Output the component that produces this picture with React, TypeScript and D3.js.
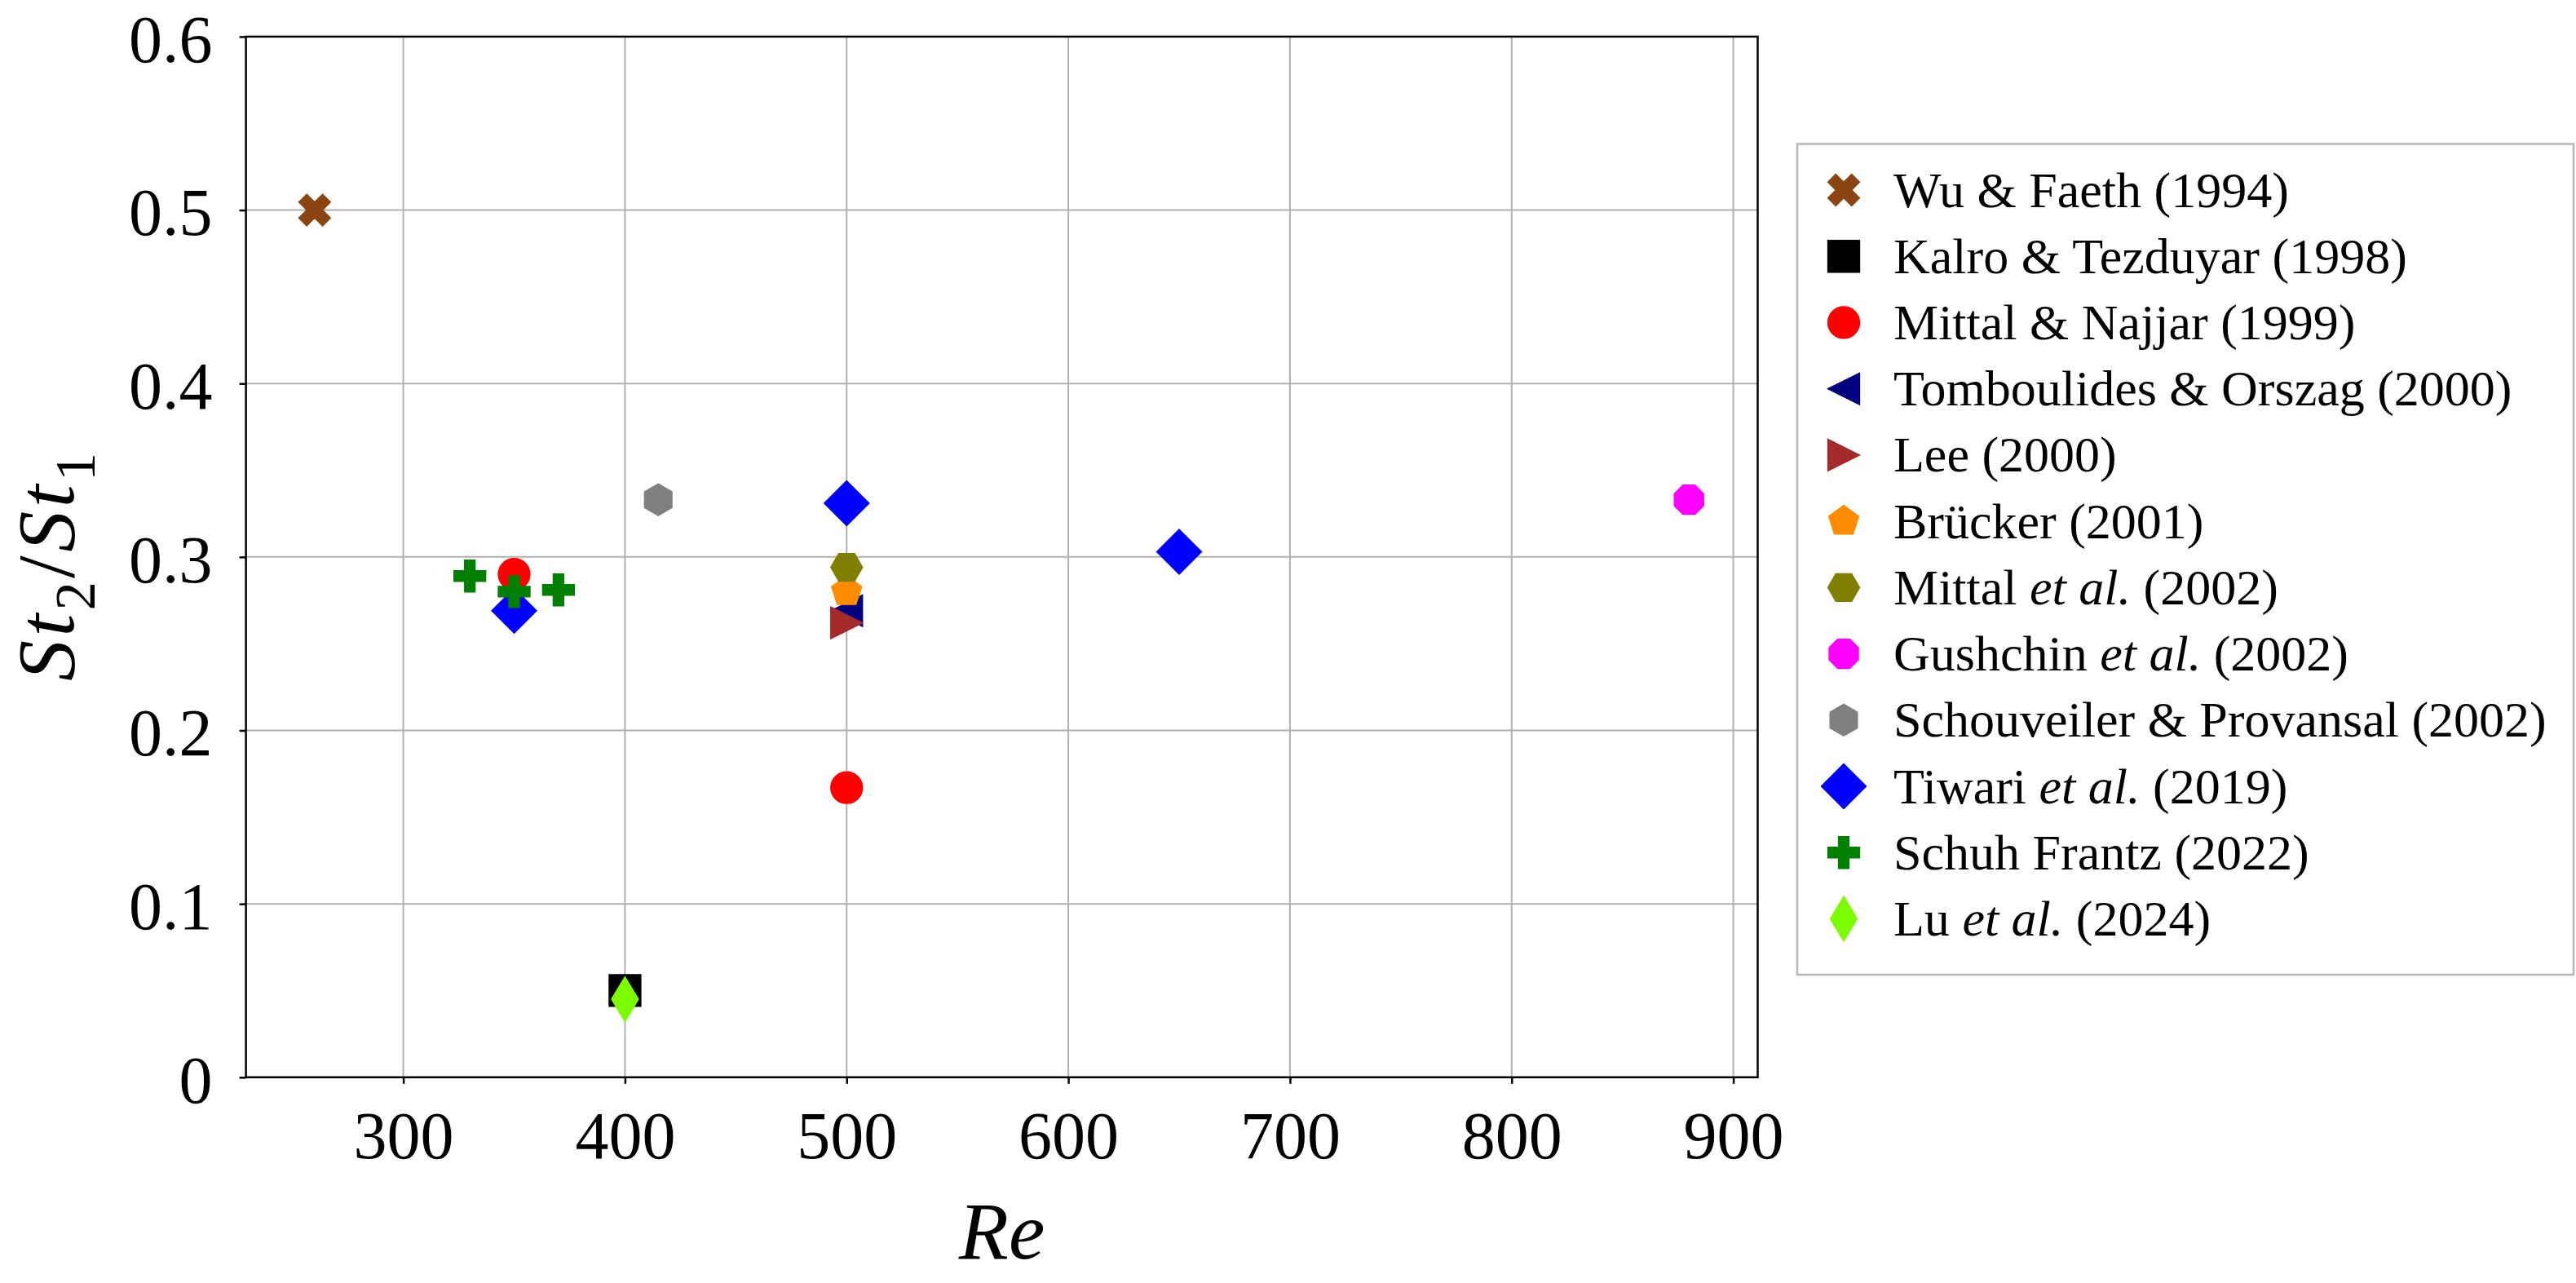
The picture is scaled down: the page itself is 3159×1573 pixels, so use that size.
import { useEffect, useRef } from 'react'
import * as d3 from 'd3'

// Re values and St2/St1 ratios, one pair of arrays per study
const wuFaethRe = [260]
const wuFaethRatio = [0.5]
const kalroRe = [400]
const kalroRatio = [0.05]
const mittalNajjarRe = [350, 500]
const mittalNajjarRatio = [0.29, 0.167]
const tomboulidesRe = [500]
const tomboulidesRatio = [0.269]
const leeRe = [500]
const leeRatio = [0.262]
const bruckerRe = [500]
const bruckerRatio = [0.28]
const mittal2002Re = [500]
const mittal2002Ratio = [0.294]
const gushchinRe = [880]
const gushchinRatio = [0.333]
const schouveilerRe = [415]
const schouveilerRatio = [0.333]
const tiwariRe = [350, 500, 650]
const tiwariRatio = [0.269, 0.331, 0.303]
const schuhRe = [330, 350, 370]
const schuhRatio = [0.289, 0.28, 0.281]
const luRe = [400]
const luRatio = [0.045]

const studyLabels = [
  'Wu & Faeth (1994)',
  'Kalro & Tezduyar (1998)',
  'Mittal & Najjar (1999)',
  'Tomboulides & Orszag (2000)',
  'Lee (2000)',
  'Brücker (2001)',
  'Mittal et al. (2002)',
  'Gushchin et al. (2002)',
  'Schouveiler & Provansal (2002)',
  'Tiwari et al. (2019)',
  'Schuh Frantz (2022)',
  'Lu et al. (2024)',
]
const studyMarkers = ['X', 's', 'o', '<', '>', 'p', 'H', '8', 'h', 'D', 'P', 'd']
const studyColors = [
  '#8B4513', '#000000', '#FF0000', '#000080', '#A52A2A', '#FF8C00',
  '#808000', '#FF00FF', '#808080', '#0000FF', '#008000', '#7CFC00',
]
const studyRe = [
  wuFaethRe, kalroRe, mittalNajjarRe, tomboulidesRe, leeRe, bruckerRe,
  mittal2002Re, gushchinRe, schouveilerRe, tiwariRe, schuhRe, luRe,
]
const studyRatio = [
  wuFaethRatio, kalroRatio, mittalNajjarRatio, tomboulidesRatio, leeRatio, bruckerRatio,
  mittal2002Ratio, gushchinRatio, schouveilerRatio, tiwariRatio, schuhRatio, luRatio,
]

const reTicks = [300, 400, 500, 600, 700, 800, 900]
const ratioTicks = [0, 0.1, 0.2, 0.3, 0.4, 0.5, 0.6]

const FONT = '"Liberation Serif", "Times New Roman", serif'

function polygon(n: number, r: number, startDeg: number) {
  const pts: [number, number][] = []
  for (let i = 0; i < n; i++) {
    const a = ((startDeg + (360 / n) * i) * Math.PI) / 180
    pts.push([r * Math.cos(a), r * Math.sin(a)])
  }
  return pts
}

function pathOf(pts: [number, number][]) {
  return 'M' + pts.map(p => p[0].toFixed(2) + ',' + p[1].toFixed(2)).join('L') + 'Z'
}

// matplotlib-like marker outlines, m = marker size in px
function markerPath(kind: string, m: number) {
  const h = m / 2
  switch (kind) {
    case 'X': {
      const v: [number, number][] = [[-1, -2], [0, -1], [1, -2], [2, -1], [1, 0], [2, 1], [1, 2], [0, 1], [-1, 2], [-2, 1], [-1, 0], [-2, -1]]
      return pathOf(v.map(p => [p[0] * m / 4, p[1] * m / 4]))
    }
    case 'P': {
      const v: [number, number][] = [[-1, -3], [1, -3], [1, -1], [3, -1], [3, 1], [1, 1], [1, 3], [-1, 3], [-1, 1], [-3, 1], [-3, -1], [-1, -1]]
      return pathOf(v.map(p => [p[0] * m / 6, p[1] * m / 6]))
    }
    case 's':
      return pathOf([[-h, -h], [h, -h], [h, h], [-h, h]])
    case 'o':
      return `M${h},0A${h},${h} 0 1,1 ${-h},0A${h},${h} 0 1,1 ${h},0Z`
    case '<':
      return pathOf([[-h, 0], [h, -h], [h, h]])
    case '>':
      return pathOf([[h, 0], [-h, -h], [-h, h]])
    case 'p':
      return pathOf(polygon(5, h, -90))
    case 'h':
      return pathOf(polygon(6, h, -90))
    case 'H':
      return pathOf(polygon(6, h, 0))
    case '8':
      return pathOf(polygon(8, h, 22.5))
    case 'D': {
      const r = m / Math.SQRT2
      return pathOf([[0, -r], [r, 0], [0, r], [-r, 0]])
    }
    case 'd': {
      const r = m / Math.SQRT2
      return pathOf([[0, -r], [0.6 * r, 0], [0, r], [-0.6 * r, 0]])
    }
    default:
      return ''
  }
}

export default function App() {
  const svgRef = useRef<SVGSVGElement>(null)
  const width = 3159
  const height = 1573

  useEffect(() => {
    if (!svgRef.current) return
    const svg = d3.select(svgRef.current)
    svg.selectAll('*').remove()

    const left = 301.6
    const right = 2155.5
    const top = 44.9
    const bottom = 1320.8
    const markerSize = 39

    const x = d3.scaleLinear().domain([229, 911]).range([left, right])
    const y = d3.scaleLinear().domain([0, 0.6]).range([bottom, top])

    // grid
    const grid = svg.append('g')
    grid.selectAll('.gx')
      .data(reTicks)
      .enter().append('line')
      .attr('x1', d => x(d)).attr('x2', d => x(d))
      .attr('y1', top).attr('y2', bottom)
      .attr('stroke', '#b0b0b0').attr('stroke-width', 2)
    grid.selectAll('.gy')
      .data(ratioTicks)
      .enter().append('line')
      .attr('x1', left).attr('x2', right)
      .attr('y1', d => y(d)).attr('y2', d => y(d))
      .attr('stroke', '#b0b0b0').attr('stroke-width', 2)

    // axes
    const xAxis = svg.append('g')
      .attr('transform', `translate(0,${bottom})`)
      .call(d3.axisBottom(x).tickValues(reTicks).tickSize(8).tickSizeOuter(0).tickPadding(33)
        .tickFormat(d => String(d)))
    const yAxis = svg.append('g')
      .attr('transform', `translate(${left},0)`)
      .call(d3.axisLeft(y).tickValues(ratioTicks).tickSize(8).tickSizeOuter(0).tickPadding(33)
        .tickFormat(d => String(d)))
    for (const ax of [xAxis, yAxis]) {
      ax.select('.domain').remove()
      ax.selectAll('.tick line').attr('stroke', '#000').attr('stroke-width', 2.5)
      ax.selectAll('.tick text')
        .attr('font-family', FONT)
        .attr('font-size', 82)
        .attr('fill', '#000')
    }
    yAxis.selectAll('.tick text').attr('dy', '0.37em')

    // markers
    studyLabels.forEach((_, i) => {
      const pts = studyRe[i].map((re, j) => [re, studyRatio[i][j]])
      svg.append('g')
        .selectAll('path')
        .data(pts)
        .enter().append('path')
        .attr('transform', d => `translate(${x(d[0])},${y(d[1])})`)
        .attr('d', markerPath(studyMarkers[i], markerSize))
        .attr('fill', studyColors[i])
        .attr('stroke', studyColors[i])
        .attr('stroke-width', 1.3)
        .attr('stroke-linejoin', 'miter')
    })

    // frame
    svg.append('rect')
      .attr('x', left).attr('y', top)
      .attr('width', right - left).attr('height', bottom - top)
      .attr('fill', 'none').attr('stroke', '#000').attr('stroke-width', 2.5)

    // axis titles
    svg.append('text')
      .attr('x', (left + right) / 2)
      .attr('y', 1543)
      .attr('text-anchor', 'middle')
      .attr('font-family', FONT)
      .attr('font-style', 'italic')
      .attr('font-size', 100)
      .text('Re')

    const yl = svg.append('text')
      .attr('transform', `translate(90,695) rotate(-90)`)
      .attr('text-anchor', 'middle')
      .attr('font-family', FONT)
      .attr('font-size', 100)
      .attr('textLength', 280)
      .attr('lengthAdjust', 'spacing')
    yl.append('tspan').attr('font-style', 'italic').text('St')
    yl.append('tspan').attr('font-size', 70).attr('dy', 26).text('2')
    yl.append('tspan').attr('dy', -26).text('/')
    yl.append('tspan').attr('font-style', 'italic').text('St')
    yl.append('tspan').attr('font-size', 70).attr('dy', 26).text('1')

    // legend
    const lg = svg.append('g')
    lg.append('rect')
      .attr('x', 2204).attr('y', 176.5)
      .attr('width', 952).attr('height', 1018.5)
      .attr('fill', '#fff').attr('stroke', '#b5b5b5').attr('stroke-width', 2.5)

    const rowY = d3.scaleLinear().domain([0, studyLabels.length - 1]).range([233, 1126.5])
    studyLabels.forEach((label, i) => {
      const cy = rowY(i)
      lg.append('path')
        .attr('transform', `translate(2261,${cy})`)
        .attr('d', markerPath(studyMarkers[i], markerSize))
        .attr('fill', studyColors[i])
        .attr('stroke', studyColors[i])
        .attr('stroke-width', 1.3)
      const t = lg.append('text')
        .attr('x', 2322)
        .attr('y', cy + 20.5)
        .attr('font-family', FONT)
        .attr('font-size', 62)
      const parts = label.split('et al.')
      t.append('tspan').text(parts[0])
      if (parts.length > 1) {
        t.append('tspan').attr('font-style', 'italic').text('et al.')
        t.append('tspan').text(parts[1])
      }
    })
  }, [])

  return (
    <svg
      ref={svgRef}
      width={width}
      height={height}
      style={{ position: 'absolute', left: 0, top: 0, background: '#fff' }}
    />
  )
}
